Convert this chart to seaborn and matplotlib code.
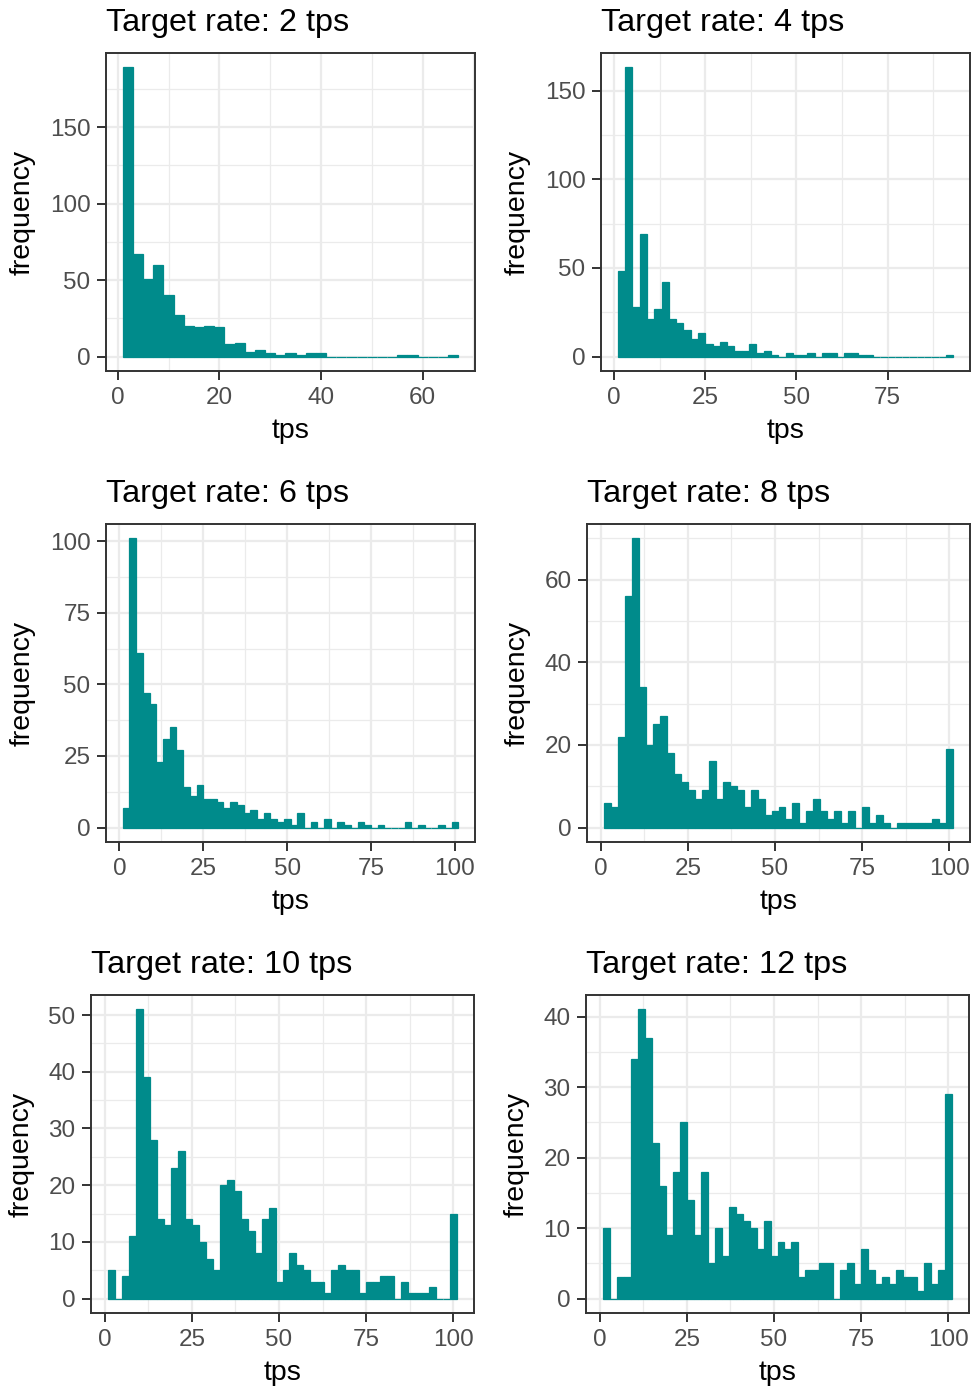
import numpy as np
import pandas as pd
import matplotlib
matplotlib.use("Agg")
import matplotlib.pyplot as plt
from matplotlib.ticker import MultipleLocator
import seaborn as sns

# ---------------- data (counts per 2-tps bin, bins start at 1 tps) ----------------
titles = ["Target rate: 2 tps", "Target rate: 4 tps", "Target rate: 6 tps",
          "Target rate: 8 tps", "Target rate: 10 tps", "Target rate: 12 tps"]
bin_start = 1
binwidth = 2

rate2 = [189, 67, 51, 60, 40, 27, 20, 19, 20, 19, 8, 9, 3, 4, 2, 1, 2, 1, 2, 2,
         0, 0, 0, 0, 0, 0, 0, 1, 1, 0, 0, 0, 1]
rate4 = [48, 163, 28, 69, 21, 27, 42, 21, 19, 15, 10, 13, 7, 6, 8, 6, 3, 3, 7, 2,
         3, 1, 0, 2, 1, 1, 2, 0, 2, 2, 0, 2, 2, 1, 1, 0, 0, 0, 0, 0,
         0, 0, 0, 0, 0, 1]
rate6 = [7, 101, 61, 47, 43, 23, 31, 35, 27, 14, 11, 15, 10, 10, 9, 7, 9, 8, 5, 6,
         3, 5, 3, 2, 3, 1, 5, 0, 2, 0, 3, 0, 2, 1, 0, 2, 1, 0, 1, 0,
         0, 0, 2, 0, 1, 0, 0, 1, 0, 2]
rate8 = [6, 5, 22, 56, 70, 34, 20, 25, 27, 18, 13, 11, 9, 7, 9, 16, 7, 11, 10, 9,
         5, 9, 7, 3, 4, 5, 2, 6, 1, 4, 7, 4, 2, 4, 1, 4, 0, 5, 1, 3,
         1, 0, 1, 1, 1, 1, 1, 2, 1, 19]
rate10 = [5, 0, 4, 11, 51, 39, 28, 14, 13, 23, 26, 14, 13, 10, 7, 5, 20, 21, 19, 14,
          12, 8, 14, 16, 3, 5, 8, 6, 5, 3, 3, 1, 5, 6, 5, 5, 1, 3, 3, 4,
          4, 0, 3, 1, 1, 1, 2, 0, 0, 15]
rate12 = [10, 0, 3, 3, 34, 41, 37, 22, 16, 9, 18, 25, 14, 9, 18, 5, 10, 6, 13, 12,
          11, 10, 7, 11, 6, 8, 7, 8, 3, 4, 4, 5, 5, 0, 4, 5, 2, 7, 4, 2,
          3, 2, 4, 3, 3, 1, 5, 2, 4, 29]

series = [rate2, rate4, rate6, rate8, rate10, rate12]
x_major = [20, 25, 25, 25, 25, 25]
y_major = [50, 50, 25, 20, 10, 10]

# ---------------- style ----------------
sns.set_style("white")
plt.rcParams["font.family"] = ["Liberation Sans", "DejaVu Sans"]

FILL = "#008B8B"
GRID = "#EBEBEB"
DARK = "#333333"
TICKC = "#4D4D4D"

W, H = 974, 1387
fig = plt.figure(figsize=(W / 100, H / 100), dpi=100)

# panel boxes in pixels: left, top, right, bottom
boxes = [(106, 53, 475, 371), (601, 53, 970, 371),
         (106, 524, 475, 842), (587, 524, 970, 842),
         (91, 995, 474, 1313), (586, 995, 969, 1313)]

for k, (counts, title) in enumerate(zip(series, titles)):
    l, t, r, b = boxes[k]
    ax = fig.add_axes([l / W, 1 - b / H, (r - l) / W, (b - t) / H])
    n = len(counts)
    x0 = bin_start
    x1 = bin_start + binwidth * n
    centers = x0 + binwidth * (np.arange(n) + 0.5)
    df = pd.DataFrame({"tps": centers, "frequency": counts})
    sns.histplot(data=df, x="tps", weights="frequency", binwidth=binwidth,
                 binrange=(x0, x1), ax=ax,
                 color=FILL, edgecolor=FILL, linewidth=0.9, alpha=1)

    dx = (x1 - x0) * 0.05
    ax.set_xlim(x0 - dx, x1 + dx)
    ymax = max(counts)
    ax.set_ylim(-0.05 * ymax, 1.05 * ymax)

    ax.xaxis.set_major_locator(MultipleLocator(x_major[k]))
    ax.xaxis.set_minor_locator(MultipleLocator(x_major[k] / 2))
    ax.yaxis.set_major_locator(MultipleLocator(y_major[k]))
    ax.yaxis.set_minor_locator(MultipleLocator(y_major[k] / 2))

    ax.set_axisbelow(True)
    ax.grid(which="major", color=GRID, linewidth=1.6)
    ax.grid(which="minor", color=GRID, linewidth=0.9)
    for s in ax.spines.values():
        s.set_visible(True)
        s.set_color(DARK)
        s.set_linewidth(1.4)

    ax.tick_params(which="major", direction="out", length=6.2, width=1.4,
                   color=DARK, labelcolor=TICKC, labelsize=17.5, pad=5,
                   bottom=True, left=True)
    ax.tick_params(which="minor", length=0)

    ax.set_xlabel("tps", fontsize=20.5, color="black", labelpad=7)
    ax.set_ylabel("frequency", fontsize=20.5, color="black", labelpad=10)
    ax.set_title(title, loc="left", fontsize=23.3, color="black", pad=15.5)

fig.savefig("out.png", dpi=100)
